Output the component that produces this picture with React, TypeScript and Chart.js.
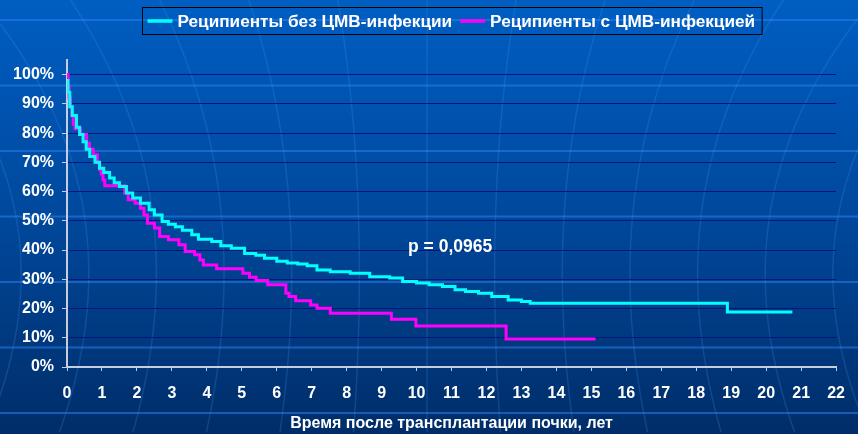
import React, { useEffect, useRef } from 'react';
import { Chart, registerables } from 'chart.js';

Chart.register(...registerables);

// ---------- data ----------
const seriesLabels = ['Реципиенты без ЦМВ-инфекции', 'Реципиенты с ЦМВ-инфекцией'];
const seriesColors = ['#00ffff', '#ff00ff'];

const noCmvYears = [0, 0.03, 0.08, 0.15, 0.27, 0.36, 0.46, 0.55, 0.65, 0.8, 0.93, 1.05, 1.22, 1.35, 1.5, 1.7, 1.88, 2.1, 2.35, 2.5, 2.72, 2.9, 3.1, 3.3, 3.57, 3.76, 4.14, 4.4, 4.7, 5.08, 5.4, 5.65, 6.0, 6.3, 6.6, 6.87, 7.15, 7.53, 8.1, 8.66, 9.23, 9.6, 10.0, 10.36, 10.74, 11.1, 11.4, 11.77, 12.15, 12.62, 13.0, 13.25, 18.89, 20.75];
const noCmvSurvival = [98, 94, 89, 86, 82, 79.5, 77, 74.5, 72, 70, 68, 66.5, 64.6, 63, 61.7, 59.5, 57.8, 56, 53.8, 52, 49.8, 48.8, 48, 46.8, 45.2, 43.7, 42.9, 41.5, 40.6, 38.8, 38.2, 37.2, 36.2, 35.6, 35.2, 34.6, 33.2, 32.6, 32.1, 30.9, 30.4, 29.2, 28.7, 28.1, 27.5, 26.4, 25.8, 25.2, 24.1, 22.9, 22.4, 21.8, 18.8, 18.8];

const cmvYears = [0, 0.03, 0.06, 0.1, 0.14, 0.18, 0.23, 0.39, 0.56, 0.64, 0.75, 0.87, 0.94, 0.98, 1.03, 1.08, 1.65, 1.75, 1.95, 2.1, 2.2, 2.3, 2.5, 2.65, 2.9, 3.2, 3.38, 3.65, 3.8, 3.9, 4.28, 5.03, 5.22, 5.41, 5.74, 6.26, 6.35, 6.54, 6.97, 7.15, 7.53, 9.28, 9.98, 12.56, 15.12];
const cmvSurvival = [100, 96, 92, 89, 86, 83, 81.5, 79.5, 76.5, 74.5, 72.6, 69.8, 67.5, 66, 64, 62, 59.5, 57.2, 56, 54.3, 52, 49.2, 47.5, 44.6, 43.5, 41.8, 39.5, 38.4, 36.6, 34.9, 33.6, 32.1, 30.7, 29.6, 28.1, 25.2, 24.1, 22.7, 21.2, 20.1, 18.4, 16.3, 14, 9.6, 9.6];

const xMin = 0;
const xMax = 22;
const yTickValues = [0, 10, 20, 30, 40, 50, 60, 70, 80, 90, 100];
const pValueText = 'p = 0,0965';
const xAxisTitle = 'Время после трансплантации почки, лет';

const FONT = '"Liberation Sans", Arial, sans-serif';

const toPoints = (xs: number[], ys: number[]) => xs.map((x, i) => ({ x, y: ys[i] }));

// ---------- plugins ----------
const backgroundPlugin = {
  id: 'slideBackground',
  beforeDraw(chart: any) {
    const { ctx, width, height } = chart;
    ctx.save();
    const g = ctx.createLinearGradient(0, 0, 0, height);
    g.addColorStop(0, '#005ec2');
    g.addColorStop(0.5, '#00489c');
    g.addColorStop(1, '#002d68');
    ctx.fillStyle = g;
    ctx.fillRect(0, 0, width, height);

    // horizontal lighter bands
    ctx.strokeStyle = 'rgba(40,130,235,0.55)';
    ctx.lineWidth = 2;
    for (let y = 20; y < height; y += 65.5) {
      ctx.beginPath();
      ctx.moveTo(0, y);
      ctx.lineTo(width, y);
      ctx.stroke();
    }

    // faint meridian curves
    ctx.strokeStyle = 'rgba(70,150,240,0.22)';
    ctx.lineWidth = 1.5;
    const cx = 427;
    for (let k = -7; k <= 7; k++) {
      ctx.beginPath();
      for (let y = 0; y <= height; y += 6) {
        const s = 75 - 0.03 * y;
        const bend = 1 + 0.000004 * (y - 217) * (y - 217);
        const x = cx + k * s * bend;
        if (y === 0) ctx.moveTo(x, y);
        else ctx.lineTo(x, y);
      }
      ctx.stroke();
    }
    ctx.restore();
  },
};

const overlayPlugin = {
  id: 'overlayText',
  afterDraw(chart: any) {
    const { ctx, scales } = chart;
    ctx.save();
    // legend box
    ctx.font = `bold 17.2px ${FONT}`;
    const w1 = ctx.measureText(seriesLabels[0]).width;
    const w2 = ctx.measureText(seriesLabels[1]).width;
    const padL = 5, sw = 25, gap = 5, between = 8, padR = 7;
    const total = padL + sw + gap + w1 + between + sw + gap + w2 + padR;
    const cxLegend = (chart.chartArea.left + chart.chartArea.right) / 2;
    const left = Math.round(cxLegend - total / 2) + 0.5;
    const top = 7.5, h = 27;
    ctx.strokeStyle = '#000000';
    ctx.lineWidth = 1;
    ctx.strokeRect(left, top, total, h);
    const cy = top + h / 2;
    let x = left + padL;
    const widths = [w1, w2];
    for (let i = 0; i < 2; i++) {
      ctx.strokeStyle = seriesColors[i];
      ctx.lineWidth = 3.5;
      ctx.beginPath();
      ctx.moveTo(x, cy);
      ctx.lineTo(x + sw, cy);
      ctx.stroke();
      x += sw + gap;
      ctx.fillStyle = '#ffffff';
      ctx.textAlign = 'left';
      ctx.textBaseline = 'middle';
      ctx.fillText(seriesLabels[i], x, cy + 1);
      x += widths[i] + between;
    }

    // p value
    ctx.font = `bold 17.5px ${FONT}`;
    ctx.fillStyle = '#ffffff';
    ctx.textAlign = 'center';
    ctx.textBaseline = 'middle';
    ctx.fillText(pValueText, scales.x.getPixelForValue(10.96), scales.y.getPixelForValue(41));
    ctx.restore();
  },
};

export default function App() {
  const ref = useRef<HTMLCanvasElement | null>(null);

  useEffect(() => {
    if (!ref.current) return;
    Chart.defaults.font.family = FONT;
    const axisColor = '#c4cee0';
    const chart = new Chart(ref.current, {
      type: 'line',
      data: {
        datasets: [
          {
            label: seriesLabels[0],
            data: toPoints(noCmvYears, noCmvSurvival),
            borderColor: seriesColors[0],
            backgroundColor: seriesColors[0],
            borderWidth: 3,
            pointRadius: 0,
            stepped: 'before',
            fill: false,
          },
          {
            label: seriesLabels[1],
            data: toPoints(cmvYears, cmvSurvival),
            borderColor: seriesColors[1],
            backgroundColor: seriesColors[1],
            borderWidth: 3,
            pointRadius: 0,
            stepped: 'before',
            fill: false,
          },
        ],
      },
      options: {
        responsive: false,
        animation: false,
        layout: { padding: { left: 0, right: 12, top: 60, bottom: 0 } },
        plugins: {
          legend: { display: false },
          tooltip: { enabled: false },
        },
        scales: {
          x: {
            type: 'linear',
            min: xMin,
            max: xMax,
            afterFit: (s: any) => { s.height = 67; },
            ticks: {
              stepSize: 1,
              color: '#ffffff',
              font: { family: FONT, size: 16, weight: 'bold' },
              padding: 13,
              maxRotation: 0,
              autoSkip: false,
            },
            grid: { drawOnChartArea: false, drawTicks: true, tickLength: 4, color: axisColor, lineWidth: 1 },
            border: { color: axisColor, width: 2 },
            title: {
              display: true,
              text: xAxisTitle,
              color: '#ffffff',
              font: { family: FONT, size: 16, weight: 'bold' },
              padding: { top: 4, bottom: 1 },
            },
          },
          y: {
            min: 0,
            max: 105,
            afterFit: (s: any) => { s.width = 67; },
            afterBuildTicks: (s: any) => { s.ticks = yTickValues.map((v) => ({ value: v })); },
            ticks: {
              color: '#ffffff',
              font: { family: FONT, size: 16, weight: 'bold' },
              padding: 8,
              callback: (v: any) => `${v}%`,
            },
            grid: { color: '#0a1280', tickColor: axisColor, tickLength: 5, lineWidth: 1 },
            border: { color: axisColor, width: 2 },
          },
        },
      },
      plugins: [backgroundPlugin, overlayPlugin],
    } as any);
    return () => chart.destroy();
  }, []);

  return (
    <div style={{ position: 'fixed', left: 0, top: 0, width: 858, height: 434 }}>
      <canvas ref={ref} width={858} height={434} style={{ display: 'block', width: 858, height: 434 }} />
    </div>
  );
}
